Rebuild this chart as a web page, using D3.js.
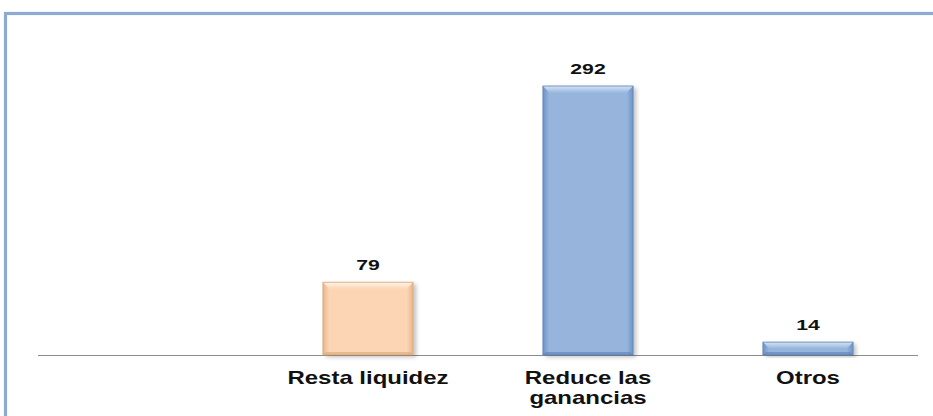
<!DOCTYPE html>
<html>
<head>
<meta charset="utf-8">
<script src="https://cdn.jsdelivr.net/npm/d3@7"></script>
<style>
  body { margin: 0; background: #fff; }
  svg { display: block; }
  text { font-family: "Liberation Sans", Arial, sans-serif; font-weight: bold; fill: #111; }
</style>
</head>
<body>
<svg id="chart" width="933" height="416"></svg>
<script>
// data
const categories = ["", "Resta liquidez", "Reduce las ganancias", "Otros"];
const labelLines = [[], ["Resta liquidez"], ["Reduce las", "ganancias"], ["Otros"]];
const values = [null, 79, 292, 14];
const barStyle = [null, "peach", "blue", "blue"];

const W = 933, H = 416;
const X0 = 38, X1 = 918, BASE = 355, TOP = 86;
const STRETCH = 1.37; // text in the picture is widened

const palettes = {
  peach: { base: "#fcd5b4", edge: "#e6b68a", light: "#fff4ea", dark: "#d9a677" },
  blue:  { base: "#97b5dc", edge: "#6d93c6", light: "#d6e4f5", dark: "#5a80b6" }
};

const svg = d3.select("#chart");
const defs = svg.append("defs");

Object.keys(palettes).forEach(k => {
  const p = palettes[k];
  const g = defs.append("linearGradient").attr("id", "h-" + k)
    .attr("x1", 0).attr("x2", 1).attr("y1", 0).attr("y2", 0);
  g.append("stop").attr("offset", 0).attr("stop-color", p.edge);
  g.append("stop").attr("offset", 0.07).attr("stop-color", p.base);
  g.append("stop").attr("offset", 0.93).attr("stop-color", p.base);
  g.append("stop").attr("offset", 1).attr("stop-color", p.edge);
  const t = defs.append("linearGradient").attr("id", "t-" + k)
    .attr("x1", 0).attr("x2", 0).attr("y1", 0).attr("y2", 1);
  t.append("stop").attr("offset", 0).attr("stop-color", p.light);
  t.append("stop").attr("offset", 1).attr("stop-color", p.base);
});

const shadow = defs.append("filter").attr("id", "shadow")
  .attr("x", "-20%").attr("y", "-20%").attr("width", "140%").attr("height", "140%");
shadow.append("feDropShadow").attr("dx", 3).attr("dy", 2).attr("stdDeviation", 2)
  .attr("flood-color", "#000").attr("flood-opacity", 0.25);

// frame
svg.append("rect")
  .attr("x", 5.5).attr("y", 13.5).attr("width", W).attr("height", H)
  .attr("fill", "#fff").attr("stroke", "#8eaad3").attr("stroke-width", 3.2);

const x = d3.scaleBand().domain(categories).range([X0, X1]).padding(0);
const y = d3.scaleLinear().domain([0, d3.max(values)]).range([BASE, TOP]);
const barW = x.bandwidth() * 0.41;

// baseline
svg.append("line")
  .attr("x1", X0).attr("x2", X1).attr("y1", BASE + 0.5).attr("y2", BASE + 0.5)
  .attr("stroke", "#8c8c8c").attr("stroke-width", 1.2);

const data = categories.map((c, i) => ({ c, v: values[i], s: barStyle[i], lines: labelLines[i] }))
  .filter(d => d.v != null);

const bars = svg.append("g").selectAll("g").data(data).join("g")
  .attr("transform", d => `translate(${x(d.c) + x.bandwidth() / 2 - barW / 2},0)`);

bars.append("rect")
  .attr("y", d => y(d.v)).attr("width", barW).attr("height", d => BASE - y(d.v))
  .attr("fill", d => `url(#h-${d.s})`)
  .attr("filter", "url(#shadow)");

// bevel: light top, darker bottom
const bev = 7;
bars.append("path")
  .attr("d", d => {
    const t = y(d.v), b = Math.min(bev, (BASE - t) / 2);
    return `M0,${t}L${barW},${t}L${barW - b},${t + b}L${b},${t + b}Z`;
  })
  .attr("fill", d => `url(#t-${d.s})`);
bars.append("path")
  .attr("d", d => {
    const t = y(d.v), b = Math.min(3, (BASE - t) / 3);
    return `M0,${BASE}L${barW},${BASE}L${barW - b},${BASE - b}L${b},${BASE - b}Z`;
  })
  .attr("fill", d => palettes[d.s].dark).attr("opacity", 0.6);
bars.append("rect")
  .attr("y", d => y(d.v)).attr("width", barW).attr("height", d => BASE - y(d.v))
  .attr("fill", "none").attr("stroke", d => palettes[d.s].dark).attr("stroke-width", 0.8);

// value labels
bars.append("text")
  .attr("transform", d => `translate(${barW / 2},${y(d.v) - 12}) scale(${STRETCH},1)`)
  .attr("text-anchor", "middle").attr("font-size", 15.5)
  .text(d => d.v);

// category labels
const cat = svg.append("g").selectAll("g").data(data).join("g")
  .attr("transform", d => `translate(${x(d.c) + x.bandwidth() / 2},0)`);
cat.selectAll("text").data(d => d.lines).join("text")
  .attr("transform", (l, i) => `translate(0,${384 + i * 20}) scale(${STRETCH},1)`)
  .attr("text-anchor", "middle").attr("font-size", 17.5)
  .text(l => l);
</script>
</body>
</html>
